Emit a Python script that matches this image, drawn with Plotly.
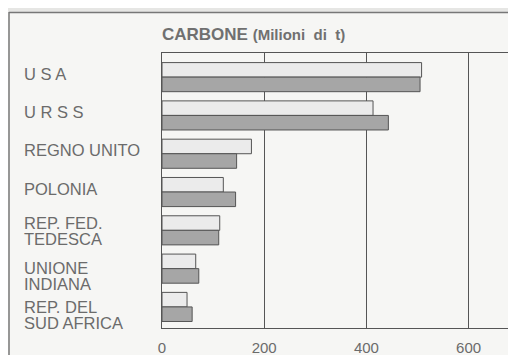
import plotly.graph_objects as go

# ---- data ----
countries = ["USA", "URSS", "REGNO UNITO", "POLONIA", "REP. FED. TEDESCA",
             "UNIONE INDIANA", "REP. DEL SUD AFRICA"]
label_lines = [["U S A"], ["U R S S"], ["REGNO UNITO"], ["POLONIA"],
               ["REP. FED.", "TEDESCA"], ["UNIONE", "INDIANA"],
               ["REP. DEL", "SUD AFRICA"]]
values_light = [508, 413, 175, 120, 113, 66, 49]
values_dark = [505, 443, 146, 144, 111, 72, 59]
tick_vals = [0, 200, 400, 600]
tick_text = ["0", "200", "400", "600"]
title_main = "CARBONE"
title_unit = "(Milioni&nbsp; di&nbsp; t)"

# ---- layout constants (pixels; page has an 8px body margin) ----
OFF = 8
W, H = 516 - 2 * OFF, 363 - 2 * OFF
L = 162 - OFF
T = 53 - OFF
B = H - (328 - OFF)
R = 0
PW, PH = W - L - R, H - T - B
TEXT = "#6b6b6b"
LINE = "#555555"
FONT = "Liberation Sans, Arial, sans-serif"

fig = go.Figure()
fig.add_trace(go.Bar(y=countries, x=values_light, orientation="h",
                     marker=dict(color="#ebebeb", line=dict(color=LINE, width=1)),
                     showlegend=False, hoverinfo="skip"))
fig.add_trace(go.Bar(y=countries, x=values_dark, orientation="h",
                     marker=dict(color="#a6a6a6", line=dict(color=LINE, width=1)),
                     showlegend=False, hoverinfo="skip"))


def px_x(px):
    """page pixel x -> paper coordinate"""
    return (px - OFF - L) / PW


def px_y(py):
    """page pixel y -> paper coordinate"""
    return (H - B - (py - OFF)) / PH


annotations = []
# label vertical offsets (pixels, + = up) per line
label_shifts = [[3], [3], [4], [3], [7, -8.5], [1, -15], [0, -16.5]]
for cat, lines, shifts in zip(countries, label_lines, label_shifts):
    for line, s in zip(lines, shifts):
        annotations.append(dict(
            text=line, xref="paper", x=px_x(22), xanchor="left",
            yref="y", y=cat, yanchor="middle", yshift=s,
            showarrow=False, font=dict(family=FONT, size=16.5, color=TEXT)))

annotations.append(dict(
    text=f"<b>{title_main}</b> <span style='font-size:15px'><b>{title_unit}</b></span>",
    xref="paper", x=px_x(160), xanchor="left",
    yref="paper", y=px_y(34), yanchor="middle",
    showarrow=False, font=dict(family=FONT, size=17, color="#707070")))

shapes = [
    dict(type="rect", xref="paper", yref="paper",
         x0=px_x(OFF - 2), x1=px_x(530), y0=px_y(OFF), y1=px_y(12),
         fillcolor="#e6e6e4", line=dict(width=0), layer="below"),
    dict(type="line", xref="paper", yref="paper",
         x0=px_x(9), x1=px_x(530), y0=px_y(12.5), y1=px_y(12.5),
         line=dict(color="#777777", width=1.5)),
    dict(type="line", xref="paper", yref="paper",
         x0=px_x(9), x1=px_x(9), y0=px_y(12), y1=px_y(380),
         line=dict(color="#777777", width=1.5)),
]

fig.update_layout(
    width=W, height=H, autosize=False,
    margin=dict(l=L, r=R, t=T, b=B, pad=0),
    paper_bgcolor="#f6f6f4", plot_bgcolor="rgba(0,0,0,0)",
    barmode="group", bargap=0.24, bargroupgap=0.0,
    annotations=annotations, shapes=shapes,
    xaxis=dict(range=[0, PW / 0.511], tickvals=tick_vals, ticktext=tick_text,
               showgrid=True, gridcolor=LINE, gridwidth=1,
               zeroline=False, showline=True, mirror=True,
               linecolor=LINE, linewidth=1, ticks="",
               ticklabelstandoff=6,
               tickfont=dict(family=FONT, size=15, color=TEXT)),
    yaxis=dict(type="category", categoryorder="array", categoryarray=countries,
               range=[6.55, -0.63], showticklabels=False, showgrid=False,
               zeroline=False, showline=True, linecolor=LINE, linewidth=1,
               ticks=""),
)

fig.write_html("out.html")
